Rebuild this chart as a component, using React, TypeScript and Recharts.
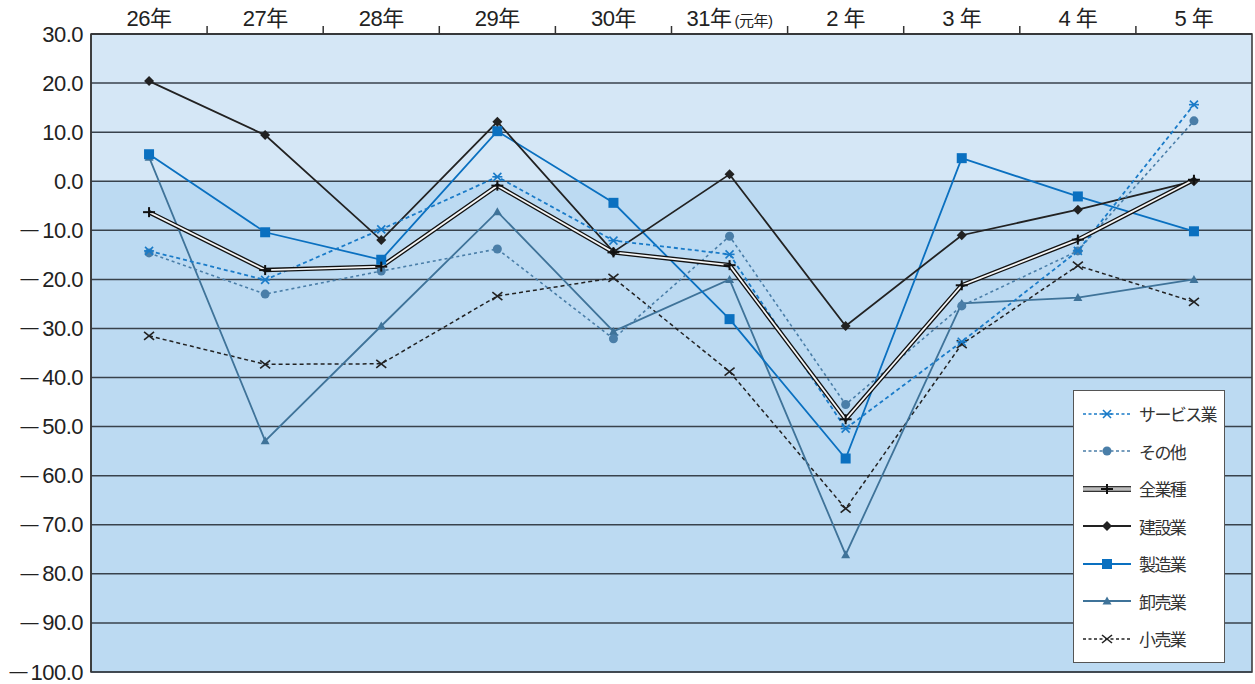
import React from 'react';
import { LineChart, Line, XAxis, YAxis, ReferenceArea, ReferenceLine } from 'recharts';

const categories = ['26年', '27年', '28年', '29年', '30年', '31年(元年)', '2 年', '3 年', '4 年', '5 年'];
const yTicks = [30, 20, 10, 0, -10, -20, -30, -40, -50, -60, -70, -80, -90, -100];

const service = [-14.2, -20.1, -9.8, 0.9, -12.1, -14.9, -50.4, -32.7, -14.2, 15.6];
const other = [-14.6, -23.0, -18.3, -13.8, -32.1, -11.2, -45.5, -25.4, -14.2, 12.3];
const allInd = [-6.3, -18.1, -17.4, -0.9, -14.5, -17.1, -48.5, -21.2, -11.9, 0.3];
const construction = [20.4, 9.4, -12.0, 12.1, -14.4, 1.4, -29.5, -11.0, -5.8, 0.0];
const manufacturing = [5.5, -10.4, -16.0, 10.2, -4.4, -28.1, -56.5, 4.7, -3.1, -10.2];
const wholesale = [4.9, -52.9, -29.5, -6.2, -30.6, -20.0, -76.1, -24.9, -23.7, -20.0];
const retail = [-31.5, -37.3, -37.2, -23.4, -19.7, -38.8, -66.7, -33.2, -17.2, -24.6];

const data = categories.map((c, i) => ({
  year: c,
  service: service[i],
  other: other[i],
  all: allInd[i],
  construction: construction[i],
  manufacturing: manufacturing[i],
  wholesale: wholesale[i],
  retail: retail[i],
}));

type Kind = 'asterisk' | 'circle' | 'plus' | 'diamond' | 'square' | 'triangle' | 'cross';

const series: { key: string; name: string; color: string; dash?: string; width: number; kind: Kind }[] = [
  { key: 'service', name: 'サービス業', color: '#1a7bc8', dash: '4 3', width: 1.8, kind: 'asterisk' },
  { key: 'other', name: 'その他', color: '#4a7ea8', dash: '3 3', width: 1.6, kind: 'circle' },
  { key: 'all', name: '全業種', color: '#111', width: 5, kind: 'plus' },
  { key: 'construction', name: '建設業', color: '#222', width: 1.8, kind: 'diamond' },
  { key: 'manufacturing', name: '製造業', color: '#0a70c0', width: 1.8, kind: 'square' },
  { key: 'wholesale', name: '卸売業', color: '#3f7399', width: 1.8, kind: 'triangle' },
  { key: 'retail', name: '小売業', color: '#222', dash: '4 3', width: 1.5, kind: 'cross' },
];

function Marker({ cx, cy, kind, color }: { cx: number; cy: number; kind: Kind; color: string }) {
  if (cx == null || cy == null) return null;
  switch (kind) {
    case 'asterisk':
      return (
        <g stroke={color} strokeWidth={1.6}>
          <line x1={cx - 4} y1={cy - 4} x2={cx + 4} y2={cy + 4} />
          <line x1={cx - 4} y1={cy + 4} x2={cx + 4} y2={cy - 4} />
          <line x1={cx - 5} y1={cy} x2={cx + 5} y2={cy} />
        </g>
      );
    case 'circle':
      return <circle cx={cx} cy={cy} r={4.5} fill={color} />;
    case 'plus':
      return (
        <g stroke="#111" strokeWidth={2}>
          <line x1={cx - 6} y1={cy} x2={cx + 6} y2={cy} />
          <line x1={cx} y1={cy - 5} x2={cx} y2={cy + 5} />
        </g>
      );
    case 'diamond':
      return <polygon points={`${cx},${cy - 5} ${cx + 5},${cy} ${cx},${cy + 5} ${cx - 5},${cy}`} fill={color} />;
    case 'square':
      return <rect x={cx - 5} y={cy - 5} width={10} height={10} fill={color} />;
    case 'triangle':
      return <polygon points={`${cx},${cy - 4.5} ${cx + 4.5},${cy + 3.5} ${cx - 4.5},${cy + 3.5}`} fill={color} />;
    case 'cross':
      return (
        <g stroke={color} strokeWidth={1.6}>
          <line x1={cx - 5} y1={cy - 4} x2={cx + 5} y2={cy + 4} />
          <line x1={cx - 5} y1={cy + 4} x2={cx + 5} y2={cy - 4} />
        </g>
      );
  }
  return null;
}

const FONT = "'Liberation Sans', 'Noto Sans CJK JP', sans-serif";

function TopTick(props: any) {
  const { x, y, payload, index } = props;
  const label: string = payload.value;
  const off = payload.offset || 0;
  const paren = label.indexOf('(');
  return (
    <g>
      {index > 0 && (
        <line x1={x - off} x2={x - off} y1={y + 1} y2={y + 9} stroke="#333" strokeWidth={1.5} />
      )}
      <text x={x} y={y + 1} textAnchor="middle" fontSize={22} fill="#222" fontFamily={FONT} letterSpacing={-0.5}>
        {paren >= 0 ? (
          <>
            <tspan>{label.slice(0, paren)}</tspan>
            <tspan fontSize={15} dx={3}>{label.slice(paren)}</tspan>
          </>
        ) : (
          label
        )}
      </text>
    </g>
  );
}

function LeftTick(props: any) {
  const { x, y, payload } = props;
  const v: number = payload.value;
  const num = Math.abs(v).toFixed(1);
  const base = y + 7.5;
  return (
    <g fontFamily={FONT} fill="#222" letterSpacing={-0.5}>
      <text x={x} y={base} textAnchor="end" fontSize={22}>
        {num}
      </text>
      {v < 0 && (
        <text x={x - (v <= -100 ? 56 : 45)} y={base - 2.5} textAnchor="end" fontSize={18}>
          —
        </text>
      )}
    </g>
  );
}

function LegendIcon({ s }: { s: (typeof series)[number] }) {
  const w = 48;
  const h = 16;
  const cy = h / 2;
  return (
    <svg width={w} height={h} style={{ display: 'block' }}>
      {s.key === 'all' ? (
        <>
          <line x1={1} x2={w - 1} y1={cy} y2={cy} stroke="#333" strokeWidth={6} strokeLinecap="round" />
          <line x1={1} x2={w - 1} y1={cy} y2={cy} stroke="#bbb" strokeWidth={3.5} strokeLinecap="round" />
        </>
      ) : (
        <line x1={0} x2={w} y1={cy} y2={cy} stroke={s.color} strokeWidth={s.dash ? 1.5 : 1.8} strokeDasharray={s.dash ? '3 2.5' : undefined} />
      )}
      <Marker cx={w / 2} cy={cy} kind={s.kind} color={s.color} />
    </svg>
  );
}

function LegendBox() {
  return (
    <div
      style={{
        position: 'absolute',
        left: 1073,
        top: 390,
        boxSizing: 'border-box',
        width: 152,
        height: 273,
        background: '#fff',
        border: '1.5px solid #555',
        padding: '4px 0 0 9px',
        fontFamily: "'Noto Sans CJK JP', sans-serif",
        fontSize: 17,
        letterSpacing: -1.6,
        color: '#333',
      }}
    >
      {series.map((s) => (
        <div key={s.key} style={{ height: 37.5, display: 'flex', alignItems: 'center' }}>
          <LegendIcon s={s} />
          <span style={{ marginLeft: 8, lineHeight: 1 }}>{s.name}</span>
        </div>
      ))}
    </div>
  );
}

const drawOrder = ['retail', 'wholesale', 'manufacturing', 'construction', 'other', 'service'];

export default function App() {
  return (
    <div style={{ position: 'absolute', left: 0, top: 0, width: 1255, height: 684, background: '#fff' }}>
      <LineChart width={1255} height={684} data={data} margin={{ top: 0, right: 3, bottom: 12, left: 0 }}>
        <ReferenceArea y1={0} y2={30} fill="#d5e7f6" fillOpacity={1} stroke="none" />
        <ReferenceArea y1={-100} y2={0} fill="#bcdaf2" fillOpacity={1} stroke="none" />
        {yTicks.map((t) => (
          <ReferenceLine key={t} y={t} stroke="#38424c" strokeWidth={1.5} />
        ))}
        <ReferenceArea y1={-100} y2={30} fill="none" stroke="#333" strokeWidth={1.5} />
        <XAxis
          dataKey="year"
          orientation="top"
          scale="band"
          height={34}
          tickLine={false}
          tickSize={7}
          tickMargin={2}
          axisLine={{ stroke: '#333', strokeWidth: 1.5 }}
          tick={<TopTick />}
          interval={0}
        />
        <YAxis
          type="number"
          domain={[-100, 30]}
          ticks={yTicks}
          width={91}
          tickLine={false}
          tickSize={6}
          tickMargin={2}
          axisLine={{ stroke: '#333', strokeWidth: 1.5 }}
          tick={<LeftTick />}
          interval={0}
        />
        {drawOrder.map((k) => {
          const s = series.find((x) => x.key === k)!;
          return (
            <Line
              key={k}
              dataKey={k}
              name={s.name}
              stroke={s.color}
              strokeWidth={s.width}
              strokeDasharray={s.dash}
              isAnimationActive={false}
              dot={(p: any) => <Marker key={p.index} cx={p.cx} cy={p.cy} kind={s.kind} color={s.color} />}
              activeDot={false}
            />
          );
        })}
        <Line dataKey="all" stroke="#111" strokeWidth={4.5} isAnimationActive={false} dot={false} activeDot={false} />
        <Line
          dataKey="all"
          name="全業種"
          stroke="#f6f6f6"
          strokeWidth={1.8}
          isAnimationActive={false}
          dot={(p: any) => <Marker key={p.index} cx={p.cx} cy={p.cy} kind="plus" color="#111" />}
          activeDot={false}
        />
      </LineChart>
      <LegendBox />
    </div>
  );
}
